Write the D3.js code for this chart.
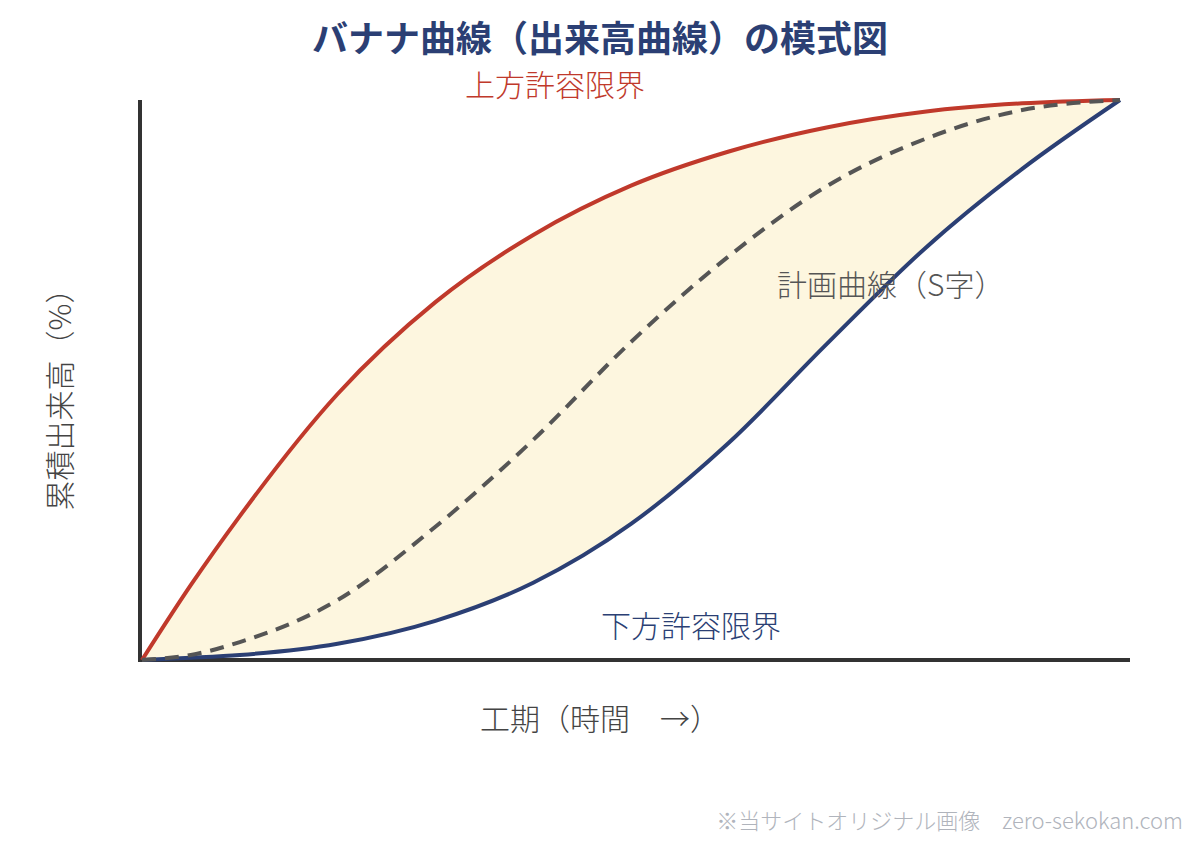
<!DOCTYPE html>
<html>
<head>
<meta charset="utf-8">
<script src="https://cdn.jsdelivr.net/npm/d3@7"></script>
<style>
  body { margin: 0; background: #fff; }
  svg { display: block; font-family: "Noto Sans CJK JP", "Noto Sans", sans-serif; }
</style>
</head>
<body>
<svg id="chart" width="1200" height="844"></svg>
<script>
// 工期の進み具合（%）
var progress = [0, 5, 10, 20, 30, 40, 50, 60, 70, 80, 90, 100];
// 上方許容限界
var upperLimit = [0, 13.4, 25.7, 47.5, 63.9, 75.9, 84.7, 90.8, 95.1, 97.9, 99.4, 100];
// 計画曲線（S字）
var planned = [0, 0.9, 3.2, 10.7, 23.8, 39.3, 56.8, 72.1, 84.6, 93.0, 98.2, 100];
// 下方許容限界
var lowerLimit = [0, 0.4, 0.9, 2.9, 7.0, 13.8, 24.3, 38.8, 56.4, 73.4, 87.7, 100];

var svg = d3.select('#chart');

var x = d3.scaleLinear().domain([0, 100]).range([142, 1120]);
var y = d3.scaleLinear().domain([0, 100]).range([660, 100]);

var rows = progress.map(function(p, i) {
  return { t: p, up: upperLimit[i], plan: planned[i], low: lowerLimit[i] };
});

// 許容範囲の塗り
var band = d3.area()
  .x(function(d) { return x(d.t); })
  .y0(function(d) { return y(d.low); })
  .y1(function(d) { return y(d.up); })
  .curve(d3.curveMonotoneX);

svg.append('path')
  .datum(rows)
  .attr('d', band)
  .attr('fill', '#fdf6df');

function lineOf(key) {
  return d3.line()
    .x(function(d) { return x(d.t); })
    .y(function(d) { return y(d[key]); })
    .curve(d3.curveMonotoneX);
}

// axes (no ticks)
svg.append('line')
  .attr('x1', x(0) - 2).attr('x2', x(0) - 2)
  .attr('y1', y(100)).attr('y2', y(0) + 2)
  .attr('stroke', '#333').attr('stroke-width', 4);
svg.append('line')
  .attr('x1', x(0) - 4).attr('x2', 1130)
  .attr('y1', y(0)).attr('y2', y(0))
  .attr('stroke', '#333').attr('stroke-width', 4);

svg.append('path')
  .datum(rows)
  .attr('d', lineOf('up'))
  .attr('fill', 'none')
  .attr('stroke', '#c0392b')
  .attr('stroke-width', 4);

svg.append('path')
  .datum(rows)
  .attr('d', lineOf('low'))
  .attr('fill', 'none')
  .attr('stroke', '#2b3f74')
  .attr('stroke-width', 4);

svg.append('path')
  .datum(rows)
  .attr('d', lineOf('plan'))
  .attr('fill', 'none')
  .attr('stroke', '#555')
  .attr('stroke-width', 4)
  .attr('stroke-dasharray', '14,9');

// texts
svg.append('text')
  .attr('x', 600).attr('y', 52)
  .attr('text-anchor', 'middle')
  .attr('font-size', 36).attr('font-weight', 'bold')
  .attr('fill', '#2b3f74')
  .text('バナナ曲線（出来高曲線）の模式図');

svg.append('text')
  .attr('x', 465).attr('y', 96)
  .attr('font-size', 30).attr('font-weight', 300)
  .attr('fill', '#c0392b')
  .text('上方許容限界');

svg.append('text')
  .attr('x', 601).attr('y', 637)
  .attr('font-size', 30).attr('font-weight', 300)
  .attr('fill', '#2b3f74')
  .text('下方許容限界');

svg.append('text')
  .attr('x', 777).attr('y', 296)
  .attr('font-size', 30).attr('font-weight', 300)
  .attr('fill', '#555')
  .text('計画曲線（S字）');

svg.append('text')
  .attr('transform', 'translate(71,392) rotate(-90)')
  .attr('text-anchor', 'middle')
  .attr('font-size', 30).attr('font-weight', 300)
  .attr('fill', '#444')
  .text('累積出来高（%）');

svg.append('text')
  .attr('x', 480).attr('y', 730)
  .attr('font-size', 30).attr('font-weight', 300)
  .attr('fill', '#444')
  .text('工期（時間　→）');

svg.append('text')
  .attr('x', 1183).attr('y', 829)
  .attr('text-anchor', 'end')
  .attr('font-size', 22).attr('font-weight', 300)
  .attr('fill', '#b0b4bc')
  .text('※当サイトオリジナル画像　zero-sekokan.com');
</script>
</body>
</html>
